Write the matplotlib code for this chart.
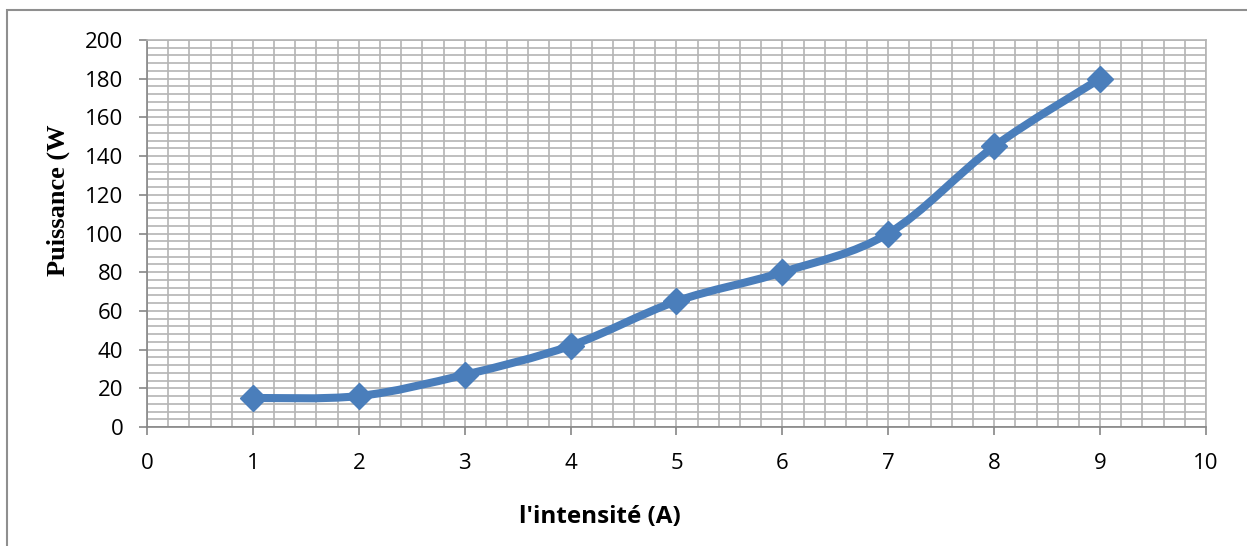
import matplotlib.pyplot as plt
import numpy as np
from matplotlib.path import Path
from matplotlib.patches import PathPatch, Rectangle
from matplotlib.ticker import MultipleLocator

# donnees
intensite = [1, 2, 3, 4, 5, 6, 7, 8, 9]
puissance = [15, 16, 27, 42, 65, 80, 100, 145, 180]

bleu = "#4a7ebb"
gris = "#b4b4b4"

fig = plt.figure(figsize=(12.47, 5.46), dpi=100)
ax = fig.add_axes([147/1247, 119/546, 1059/1247, 387/546])

# cadre gris autour du graphe
fig.patches.append(Rectangle((7/1247, -0.05), 1.2, (536/546) + 0.05,
                             transform=fig.transFigure, fill=False,
                             edgecolor="#8f8f8f", linewidth=1.5))

ax.set_xlim(0, 10)
ax.set_ylim(0, 200)
ax.xaxis.set_major_locator(MultipleLocator(1))
ax.xaxis.set_minor_locator(MultipleLocator(0.2))
ax.yaxis.set_major_locator(MultipleLocator(20))
ax.yaxis.set_minor_locator(MultipleLocator(4))
ax.grid(True, which="both", color=gris, linewidth=1.2)
ax.set_axisbelow(True)

for s in ["top", "right"]:
    ax.spines[s].set_color(gris)
    ax.spines[s].set_linewidth(1.2)
for s in ["left", "bottom"]:
    ax.spines[s].set_color("#868686")
    ax.spines[s].set_linewidth(1.2)

ax.tick_params(which="major", length=6, width=1.2, color="#868686",
               labelsize=16, labelcolor="black")
ax.tick_params(which="minor", length=0)
ax.tick_params(axis="y", pad=11)
ax.tick_params(axis="x", pad=12.5)
for lab in ax.get_xticklabels() + ax.get_yticklabels():
    lab.set_fontfamily("Open Sans")

# courbe lissee (bezier type catmull-rom comme excel)
P = np.column_stack([intensite, puissance]).astype(float)
ext = np.vstack([P[0], P, P[-1]])
verts = [tuple(P[0])]
codes = [Path.MOVETO]
for i in range(len(P) - 1):
    c1 = ext[i+1] + (ext[i+2] - ext[i]) / 6
    c2 = ext[i+2] - (ext[i+3] - ext[i+1]) / 6
    verts += [tuple(c1), tuple(c2), tuple(P[i+1])]
    codes += [Path.CURVE4] * 3
ax.add_patch(PathPatch(Path(verts, codes), facecolor="none", edgecolor=bleu,
                       linewidth=5.8, capstyle="round", joinstyle="round", zorder=3))

ax.plot(intensite, puissance, linestyle="none", marker="D", markersize=13.5,
        color=bleu, zorder=4)

fig.text(600/1247, 1 - 517/546, "l'intensité (A)", ha="center", va="center",
         fontsize=17.5, fontweight="bold", family="Open Sans")
fig.text(58/1247, 1 - 200/546, "Puissance (W", ha="center", va="center",
         rotation=90, fontsize=19, fontweight="bold", family="Liberation Serif")

plt.savefig("out.png", dpi=100)
